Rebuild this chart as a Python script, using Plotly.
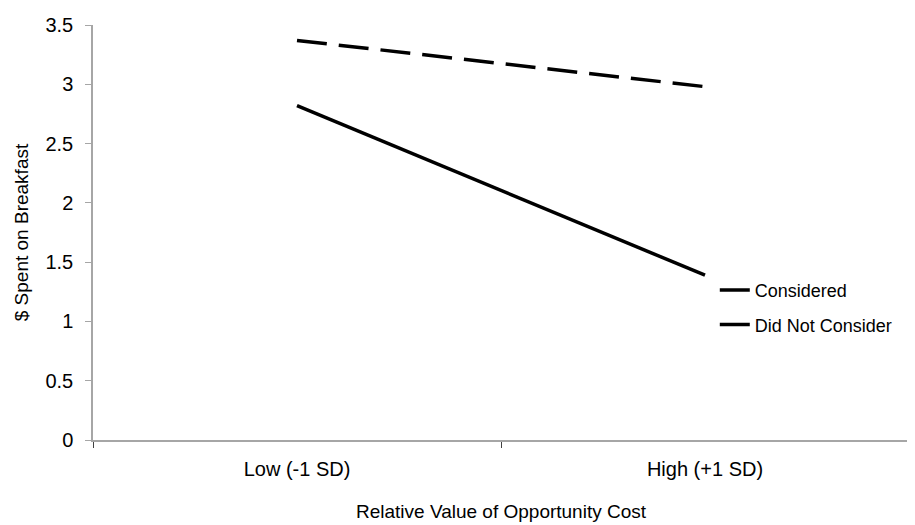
import plotly.graph_objects as go

categories = ["Low (-1 SD)", "High (+1 SD)"]
considered = [2.82, 1.39]
did_not_consider = [3.37, 2.98]
y_ticks = [0, 0.5, 1, 1.5, 2, 2.5, 3, 3.5]
y_tick_labels = ["0", "0.5", "1", "1.5", "2", "2.5", "3", "3.5"]

FONT = "Liberation Sans, Arial, sans-serif"

fig = go.Figure()
fig.add_trace(go.Scatter(
    x=categories, y=considered, mode="lines", name="Considered",
    line=dict(color="black", width=3.5), legendgroup="a"))
fig.add_trace(go.Scatter(
    x=categories, y=did_not_consider, mode="lines", name="Did Not Consider",
    line=dict(color="black", width=3.5, dash="30px,12px"), legendgroup="b"))

# page body has an 8px margin, so the figure is sized to fit the 915x525 window
fig.update_layout(
    width=907, height=517,
    margin=dict(l=85, r=6, t=14, b=85),
    plot_bgcolor="white", paper_bgcolor="white",
    font=dict(family=FONT, size=18, color="black"),
    showlegend=True,
    legend=dict(x=0.762, y=0.405, xanchor="left", yanchor="top",
                bgcolor="rgba(0,0,0,0)", font=dict(family=FONT, size=18, color="black"),
                traceorder="grouped", tracegroupgap=8),
    xaxis=dict(
        type="category", range=[-0.5, 1.5],
        showline=True, linecolor="#a6a6a6", linewidth=1.5,
        ticks="outside", tickson="boundaries", ticklen=6, tickcolor="#404040",
        ticklabelstandoff=10,
        showgrid=False, zeroline=False,
        tickfont=dict(family=FONT, size=20, color="black"),
        title=dict(text="Relative Value of Opportunity Cost", standoff=26,
                   font=dict(family=FONT, size=19, color="black")),
    ),
    yaxis=dict(
        range=[0, 3.5], tickvals=y_ticks, ticktext=y_tick_labels,
        showline=True, linecolor="#a6a6a6", linewidth=1.5,
        ticks="outside", ticklen=6, tickcolor="#a6a6a6",
        ticklabelstandoff=8,
        showgrid=False, zeroline=False,
        tickfont=dict(family=FONT, size=20, color="black"),
        title=dict(text="$ Spent on Breakfast", standoff=12,
                   font=dict(family=FONT, size=19, color="black")),
    ),
)

fig.write_html("out.html")
